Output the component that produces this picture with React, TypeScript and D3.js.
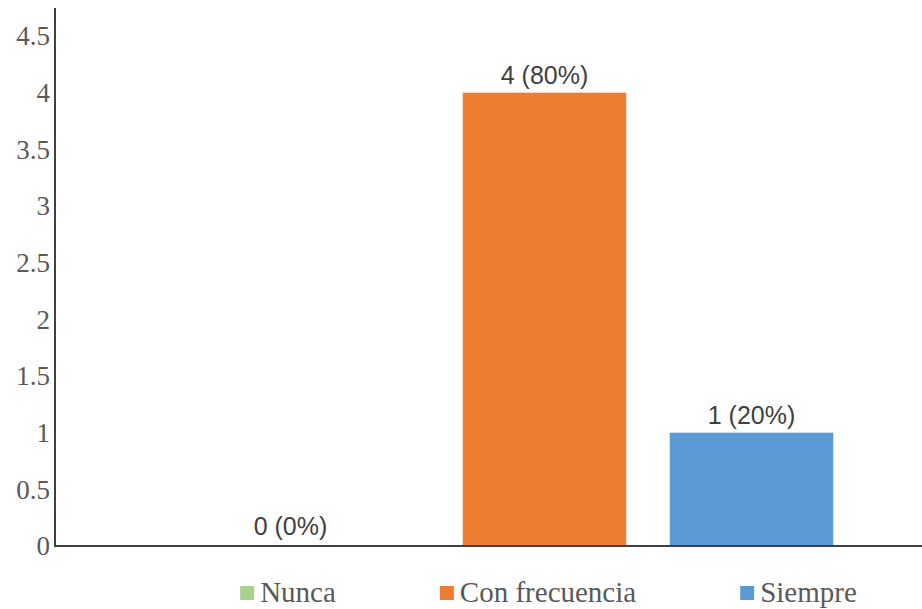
import React, { useEffect, useRef } from "react";
import * as d3 from "d3";

const categories: string[] = ["Nunca", "Con frecuencia", "Siempre"];
const values: number[] = [0, 4, 1];
const labels: string[] = ["0 (0%)", "4 (80%)", "1 (20%)"];
const colors: string[] = ["#A9D18E", "#ED7D31", "#5B9BD5"];
const yTicks: number[] = [0, 0.5, 1, 1.5, 2, 2.5, 3, 3.5, 4, 4.5];

const W = 922;
const H = 609;

export default function App() {
  const ref = useRef<SVGSVGElement | null>(null);

  useEffect(() => {
    const svg = d3.select(ref.current);
    svg.selectAll("*").remove();

    const axisX = 55;
    const y = d3.scaleLinear().domain([0, 4.5]).range([546, 36]);
    const x = d3
      .scaleBand<string>()
      .domain(categories)
      .range([234, 855])
      .paddingInner(0.21)
      .paddingOuter(0.105);

    svg.append("rect").attr("width", W).attr("height", H).attr("fill", "#ffffff");

    // bars
    svg
      .selectAll("rect.bar")
      .data(categories)
      .enter()
      .append("rect")
      .attr("class", "bar")
      .attr("x", (d) => x(d) as number)
      .attr("width", x.bandwidth())
      .attr("y", (d, i) => y(values[i]))
      .attr("height", (d, i) => y(0) - y(values[i]))
      .attr("fill", (d, i) => colors[i]);

    // data labels
    svg
      .selectAll("text.dl")
      .data(categories)
      .enter()
      .append("text")
      .attr("class", "dl")
      .attr("x", (d, i) => (x(d) as number) + x.bandwidth() / 2 - (values[i] === 0 ? 47 : 0))
      .attr("y", (d, i) => y(values[i]) - (values[i] === 0 ? 11 : 9))
      .attr("text-anchor", "middle")
      .attr("font-family", "'Liberation Sans', Arial, sans-serif")
      .attr("font-size", 25)
      .attr("fill", "#404040")
      .text((d, i) => labels[i]);

    // y tick labels
    svg
      .selectAll("text.yt")
      .data(yTicks)
      .enter()
      .append("text")
      .attr("class", "yt")
      .attr("x", 50)
      .attr("y", (d) => y(d))
      .attr("dy", "0.35em")
      .attr("text-anchor", "end")
      .attr("font-family", "'Liberation Serif', 'Times New Roman', serif")
      .attr("font-size", 27)
      .attr("fill", "#595959")
      .text((d) => String(d));

    // axes lines
    svg
      .append("line")
      .attr("x1", axisX)
      .attr("x2", axisX)
      .attr("y1", 8)
      .attr("y2", y(0) + 1)
      .attr("stroke", "#404040")
      .attr("stroke-width", 2);
    svg
      .append("line")
      .attr("x1", axisX)
      .attr("x2", W)
      .attr("y1", y(0))
      .attr("y2", y(0))
      .attr("stroke", "#404040")
      .attr("stroke-width", 2);

    // legend
    const lg = svg.append("g");
    const items = lg
      .selectAll("g.li")
      .data(categories)
      .enter()
      .append("g")
      .attr("class", "li");
    items
      .append("rect")
      .attr("width", 14)
      .attr("height", 14)
      .attr("y", 586)
      .attr("fill", (d, i) => colors[i]);
    items
      .append("text")
      .attr("x", 20)
      .attr("y", 602)
      .attr("font-family", "'Liberation Serif', 'Times New Roman', serif")
      .attr("font-size", 29)
      .attr("fill", "#595959")
      .text((d) => d);
    const widths: number[] = [];
    items.each(function () {
      const t = d3.select(this).select("text").node() as SVGTextElement;
      widths.push(20 + t.getComputedTextLength());
    });
    const gap = 104;
    const total = d3.sum(widths) + gap * (widths.length - 1);
    let cx = 548.5 - total / 2;
    items.attr("transform", (d, i) => {
      const tx = cx;
      cx += widths[i] + gap;
      return `translate(${tx},0)`;
    });
  }, []);

  return (
    <svg ref={ref} width={W} height={H} style={{ display: "block", position: "absolute", left: 0, top: 0 }} />
  );
}
